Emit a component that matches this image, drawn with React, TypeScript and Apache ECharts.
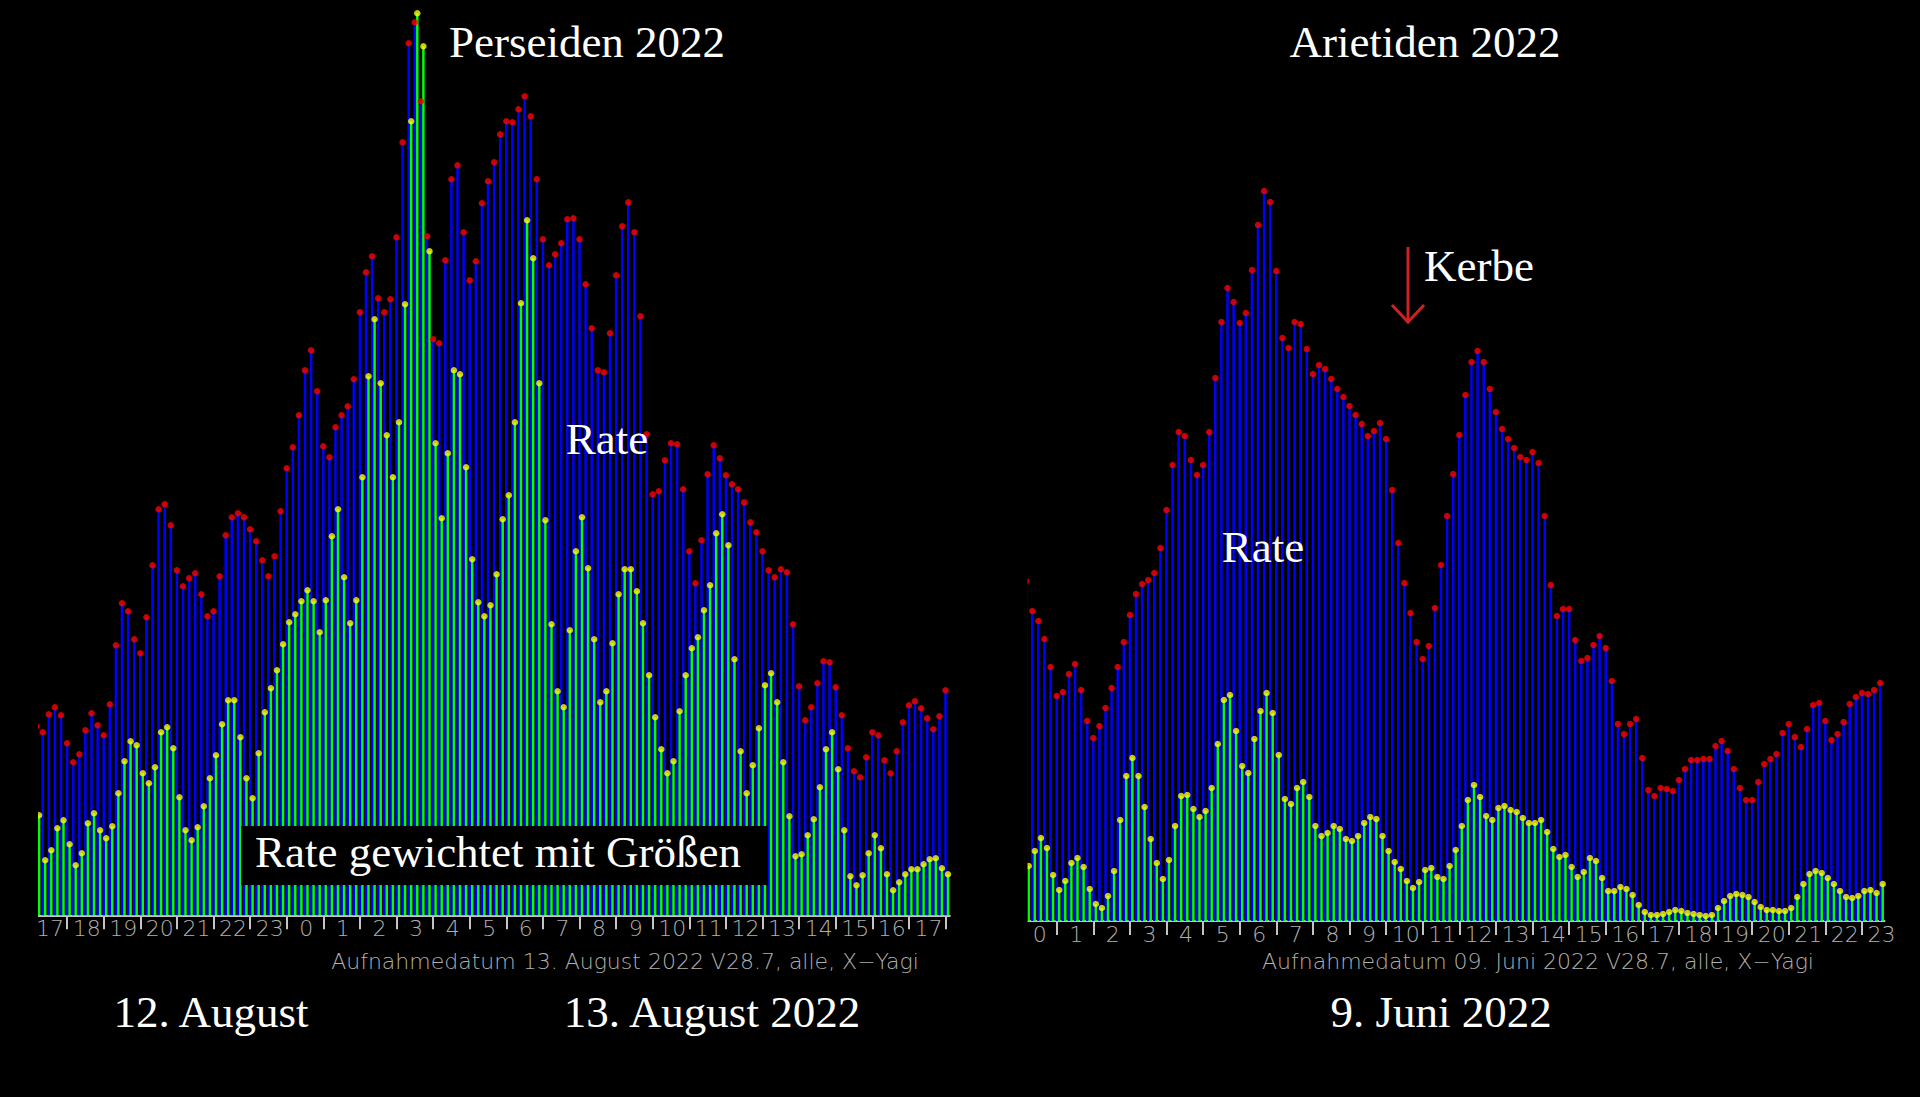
import { useEffect, useRef } from 'react';
import * as echarts from 'echarts';

// Stundenbeschriftung der beiden Aufnahmen
const hoursL = ['17', '18', '19', '20', '21', '22', '23', '0', '1', '2', '3', '4', '5', '6', '7', '8', '9', '10', '11', '12', '13', '14', '15', '16', '17'];
const hoursR = ['0', '1', '2', '3', '4', '5', '6', '7', '8', '9', '10', '11', '12', '13', '14', '15', '16', '17', '18', '19', '20', '21', '22', '23'];

// Perseiden 12./13. August 2022 (10-Minuten-Werte)
const rateL = [
  189, 183, 201, 208, 200, 172, 153, 161, 185, 202,
  190, 180, 211, 270, 312, 304, 276, 262, 298, 350,
  406, 411, 390, 345, 329, 337, 342, 321, 299, 304,
  339, 380, 398, 402, 398, 386, 374, 355, 339, 359,
  404, 447, 468, 500, 545, 565, 524, 469, 458, 488,
  500, 509, 536, 603, 643, 659, 617, 603, 616, 678,
  773, 872, 893, 814, 679, 576, 572, 655, 736, 750,
  683, 635, 654, 712, 734, 753, 781, 794, 793, 806,
  819, 799, 736, 676, 650, 661, 672, 696, 697, 676,
  631, 587, 545, 543, 582, 640, 689, 713, 683, 599,
  481, 421, 424, 455, 472, 471, 426, 364, 332, 375,
  441, 470, 457, 440, 431, 426, 413, 393, 383, 364,
  345, 338, 346, 343, 291, 229, 195, 208, 232, 254,
  253, 228, 200, 167, 144, 138, 158, 183, 180, 155,
  142, 164, 193, 210, 214, 207, 197, 186, 199, 225,
];
const weightedL = [
  100, 55, 65, 87, 95, 71, 50, 62, 92, 102,
  85, 77, 89, 122, 154, 174, 170, 142, 132, 148,
  183, 188, 167, 118, 85, 75, 88, 109, 137, 160,
  191, 215, 215, 178, 137, 117, 162, 203, 227, 245,
  271, 293, 301, 314, 325, 314, 283, 315, 379, 406,
  338, 292, 315, 438, 539, 596, 532, 480, 438, 493,
  611, 794, 902, 869, 664, 472, 397, 462, 545, 541,
  448, 356, 313, 299, 310, 341, 396, 420, 493, 612,
  695, 657, 532, 395, 291, 224, 208, 285, 364, 398,
  347, 276, 213, 224, 272, 321, 346, 346, 324, 292,
  240, 198, 166, 142, 154, 204, 240, 267, 278, 305,
  330, 382, 401, 370, 256, 164, 122, 150, 187, 230,
  242, 213, 153, 99, 59, 61, 80, 96, 128, 166,
  183, 146, 85, 39, 30, 40, 62, 80, 67, 41,
  25, 33, 41, 46, 46, 51, 56, 57, 47, 41,
];

// Arietiden 9. Juni 2022
const rateR = [
  340, 310, 300, 282, 254, 225, 229, 247, 257, 231,
  200, 183, 195, 213, 233, 254, 279, 306, 327, 337,
  341, 348, 373, 411, 456, 489, 485, 461, 446, 456,
  489, 543, 599, 633, 619, 598, 608, 651, 696, 730,
  719, 650, 583, 573, 599, 597, 572, 547, 556, 552,
  542, 532, 524, 515, 506, 497, 485, 490, 498, 482,
  431, 378, 338, 308, 279, 262, 275, 313, 356, 405,
  447, 486, 526, 559, 570, 559, 532, 509, 492, 482,
  473, 464, 461, 469, 458, 405, 336, 305, 312, 312,
  281, 260, 263, 276, 285, 273, 240, 197, 187, 197,
  202, 163, 131, 125, 133, 132, 130, 141, 152, 161,
  161, 162, 162, 175, 180, 170, 152, 133, 121, 121,
  139, 157, 162, 167, 188, 197, 184, 174, 192, 216,
  218, 200, 181, 187, 199, 217, 224, 228, 227, 231,
  238,
];
const weightedR = [
  55, 70, 83, 73, 46, 31, 40, 58, 63, 54,
  32, 17, 13, 25, 50, 101, 145, 163, 145, 114,
  82, 58, 42, 61, 95, 125, 126, 112, 104, 110,
  133, 177, 221, 226, 190, 155, 148, 182, 210, 228,
  208, 166, 122, 117, 133, 139, 124, 95, 85, 88,
  95, 92, 82, 80, 85, 98, 104, 102, 85, 70,
  59, 52, 40, 33, 39, 51, 53, 44, 42, 55,
  71, 95, 121, 136, 124, 105, 101, 113, 115, 111,
  109, 103, 98, 98, 101, 89, 72, 64, 66, 54,
  44, 49, 63, 60, 43, 30, 30, 34, 32, 26,
  16, 9, 6, 6, 7, 9, 11, 10, 8, 7,
  6, 5, 6, 13, 20, 25, 27, 26, 24, 19,
  14, 11, 11, 10, 10, 13, 24, 37, 47, 50,
  48, 43, 37, 30, 24, 23, 25, 30, 31, 28,
  37,
];

const BLUE = '#0000ff';
const GREEN = '#00ff00';
const RED = '#ff0000';
const YELLOW = '#ffff00';
const AXIS = '#c4c4c4';
const LABEL = '#b0b0b0';
const SERIF = '"Liberation Serif", "Times New Roman", serif';
const MONO = '"DejaVu Sans", sans-serif';
const BINS_PER_HOUR = 6;

// Datenachse: Grundlinie und Stundenbeschriftung
function xAxisFor(n: number, hours: string[], gridIndex: number) {
  return {
    type: 'category',
    gridIndex,
    data: Array.from({ length: n }, (_, i) => String(i)),
    axisLine: { lineStyle: { color: AXIS, width: 2 } },
    axisTick: { show: false },
    axisLabel: {
      interval: (i: number) => i % BINS_PER_HOUR === 2,
      formatter: (_v: string, i: number) => hours[(i - 2) / BINS_PER_HOUR] ?? '',
      color: LABEL,
      fontFamily: MONO,
      fontWeight: 200,
      fontSize: 22,
      margin: 2,
    },
    splitLine: { show: false },
  };
}

// Zweite Achse nur für die Stundenstriche (in Einheiten der 10-Minuten-Intervalle)
function tickAxisFor(max: number, gridIndex: number) {
  return {
    type: 'value',
    gridIndex,
    min: 0,
    max,
    interval: BINS_PER_HOUR,
    axisLine: { show: false },
    axisLabel: { show: false },
    splitLine: { show: false },
    axisTick: { show: true, length: 14, lineStyle: { color: AXIS, width: 2 } },
  };
}

function seriesFor(rate: number[], weighted: number[], idx: number) {
  const ax = { xAxisIndex: idx, yAxisIndex: idx, silent: true };
  return [
    { ...ax, type: 'bar', data: rate, barWidth: 2.5, barGap: '0%', itemStyle: { color: BLUE } },
    { ...ax, type: 'bar', data: weighted, barWidth: 2.5, barGap: '0%', itemStyle: { color: GREEN } },
    { ...ax, type: 'scatter', data: rate, symbolSize: 6.5, symbolOffset: [-1.25, 0], itemStyle: { color: RED }, z: 3 },
    { ...ax, type: 'scatter', data: weighted, symbolSize: 6.5, symbolOffset: [1.25, 0], itemStyle: { color: YELLOW }, z: 4 },
  ];
}

function label(text: string, x: number, y: number, font: string, fill = '#fff') {
  return {
    type: 'text',
    x,
    y,
    z: 101,
    style: {
      text, font, fill,
      align: 'center', verticalAlign: 'middle',
      textAlign: 'center', textVerticalAlign: 'middle',
    },
  };
}

export default function App() {
  const ref = useRef<HTMLDivElement>(null);

  useEffect(() => {
    document.body.style.margin = '0';
    document.body.style.background = '#000';
    if (!ref.current) return;
    const chart = echarts.init(ref.current, null, { renderer: 'svg' });

    const big = `45px ${SERIF}`;
    const small = `200 22px ${MONO}`;

    chart.setOption({
      animation: false,
      backgroundColor: '#000',
      grid: [
        { left: 34.8, width: 915, top: 0, height: 915.3 },
        { left: 1024.4, width: 860.1, top: 0, height: 921 },
        { left: 30.5, width: 915, top: 0, height: 915.3 },
        { left: 1020.1, width: 841.8, top: 0, height: 921 },
      ],
      xAxis: [
        xAxisFor(rateL.length, hoursL, 0),
        xAxisFor(rateR.length, hoursR, 1),
        tickAxisFor(hoursL.length * BINS_PER_HOUR, 2),
        tickAxisFor((hoursR.length - 1) * BINS_PER_HOUR, 3),
      ],
      yAxis: [
        { type: 'value', gridIndex: 0, min: 0, max: 915.3, show: false },
        { type: 'value', gridIndex: 1, min: 0, max: 921, show: false },
        { type: 'value', gridIndex: 2, min: 0, max: 1, show: false },
        { type: 'value', gridIndex: 3, min: 0, max: 1, show: false },
      ],
      series: [...seriesFor(rateL, weightedL, 0), ...seriesFor(rateR, weightedR, 1)],
      graphic: [
        // linker Rand der Diagramme abgeschnitten
        { type: 'rect', z: 100, shape: { x: 0, y: 0, width: 38, height: 945 }, style: { fill: '#000' } },
        { type: 'rect', z: 100, shape: { x: 990, y: 0, width: 37.5, height: 945 }, style: { fill: '#000' } },
        // Kasten unten links
        { type: 'rect', z: 100, shape: { x: 241, y: 826, width: 527, height: 59 }, style: { fill: '#000' } },
        label('Rate gewichtet mit Größen', 498, 852, big),
        label('Perseiden 2022', 587, 42, big),
        label('Arietiden 2022', 1425, 42, big),
        label('Rate', 607, 439, big),
        label('Rate', 1263, 547, big),
        label('Kerbe', 1479, 266, big),
        // Pfeil auf die Kerbe
        { type: 'line', z: 101, shape: { x1: 1408, y1: 247, x2: 1408, y2: 321 }, style: { stroke: '#cc2222', lineWidth: 3 } },
        {
          type: 'polyline', z: 101,
          shape: { points: [[1392, 305], [1408, 322], [1424, 305]] },
          style: { stroke: '#cc2222', lineWidth: 3, fill: null },
        },
        label('Aufnahmedatum 13. August 2022 V28.7, alle, X\u2212Yagi', 625, 961, small, LABEL),
        label('Aufnahmedatum 09. Juni 2022 V28.7, alle, X\u2212Yagi', 1538, 961, small, LABEL),
        label('12. August', 211, 1012, big),
        label('13. August 2022', 712, 1012, big),
        label('9. Juni 2022', 1441, 1012, big),
      ],
    });

    return () => chart.dispose();
  }, []);

  return (
    <div
      ref={ref}
      style={{ position: 'absolute', left: 0, top: 0, width: 1920, height: 1097, background: '#000' }}
    />
  );
}
